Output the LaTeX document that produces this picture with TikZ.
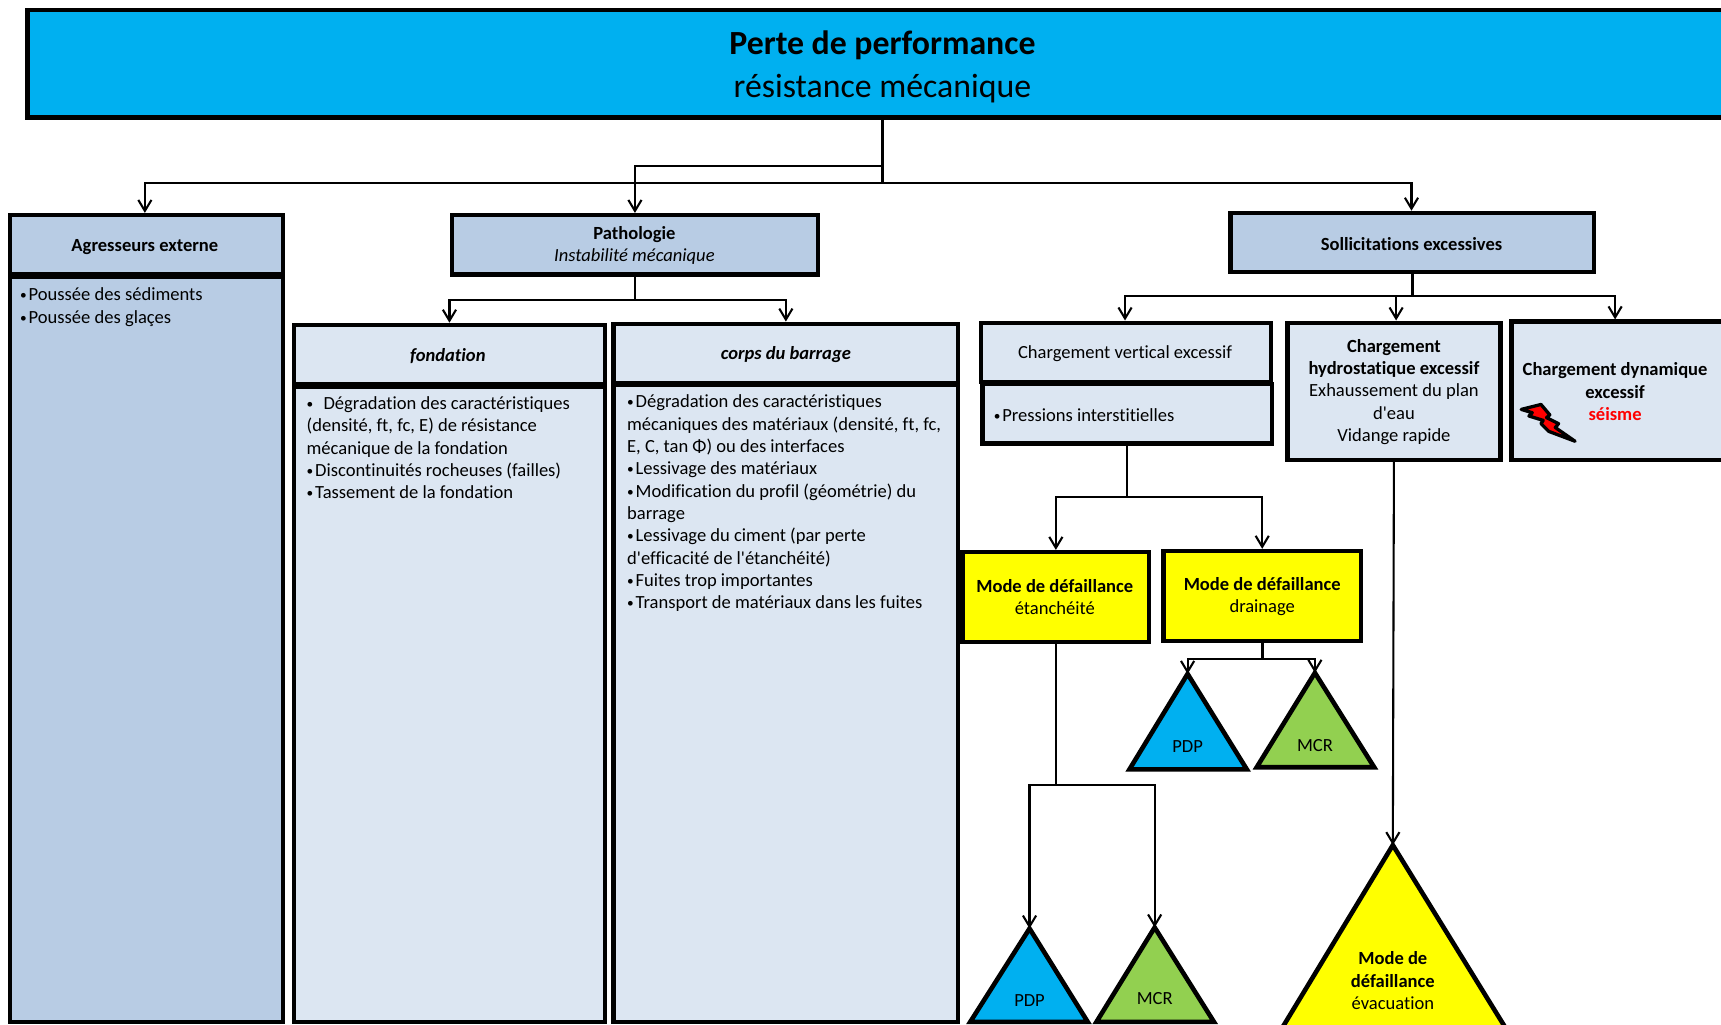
\documentclass[tikz,border=0pt]{standalone}
\usepackage{fontspec}
\setmainfont{Carlito}[Ligatures={ResetAll,NoCommon}]
\newfontfamily\plainap{Carlito}
\usetikzlibrary{arrows.meta}
\definecolor{rootblue}{HTML}{00B0F0}
\definecolor{midblue}{HTML}{B8CCE4}
\definecolor{paleblue}{HTML}{DCE6F2}
\definecolor{leaf}{HTML}{92D050}
\definecolor{mode}{HTML}{FFFF00}
\newcommand{\bodyfont}{\fontsize{8.45}{10.17}\selectfont}
\newcommand{\blt}{\raisebox{0.12ex}{\scalebox{0.72}{•}}\hspace{0.1em}}
\newcommand{\ap}{{\plainap'}}
\tikzset{
  x=0.5pt,y=-0.5pt,
  boxbase/.style={draw=black,line width=2pt,rectangle,inner sep=0pt,align=center,font=\bodyfont,text=black,anchor=center},
  sized/.style n args={4}{minimum width=#3*0.5pt-#1*0.5pt-1pt,minimum height=#4*0.5pt-#2*0.5pt-1pt,at={({(#1+#3)/2},{(#2+#4)/2})}},
  midbox/.style={boxbase,fill=midblue},
  palebox/.style={boxbase,fill=paleblue},
  modebox/.style={boxbase,fill=mode},
  bodytext/.style={inner sep=0pt,anchor=north west,align=left,font=\bodyfont,text=black},
  boxlabel/.style={inner sep=0pt,align=center,font=\bodyfont,text=black},
  link/.style={draw=black,line width=0.95pt},
  arrowlink/.style={link,-{Straight Barb[length=5pt,width=6pt,line width=0.95pt]}},
  tri/.style={draw=black,line width=2.1pt,line join=miter},
  trilabel/.style={boxlabel},
}
\begin{document}
\begin{tikzpicture}
\useasboundingbox (0,0) rectangle (1568,933);
\clip (0,0) rectangle (1568,933);
% root
\node[boxbase,fill=rootblue,sized={24}{8}{1584}{108}] (root) {};
\node[boxlabel,font=\fontsize{15.4}{19.6}\selectfont] (roottext) at (804,60.5) {\textbf{Perte de performance}\\résistance mécanique};
% second level
\node[midbox,sized={8}{195}{259}{251}] (agr) {};
\node[boxlabel] (agrlabel) at (132,225) {\textbf{Agresseurs externe}};
\node[midbox,sized={8}{251}{259}{932}] (agrbody) {};
\node[midbox,sized={411}{195}{746}{251}] (path) {};
\node[boxlabel] (pathlabel) at (578,223.5) {\textbf{Pathologie}\\\textit{Instabilité mécanique}};
\node[midbox,sized={1120}{193}{1453}{249}] (soll) {};
\node[boxlabel] (solllabel) at (1286,222) {\textbf{Sollicitations excessives}};
\node[bodytext] (agrtext) at (18,262) {\blt Poussée des sédiments\\\blt Poussée des glaçes};
% third level
\node[palebox,sized={267}{295}{552}{351}] (fond) {};
\node[boxlabel] (fondlabel) at (408,324) {\textbf{\textit{fondation}}};
\node[palebox,sized={267}{351}{552}{932}] (fondbody) {};
\node[bodytext] (fondtext) at (279,361) {\blt\ \ Dégradation des caractéristiques\\(densité, ft, fc, E) de résistance\\mécanique de la fondation\\\blt Discontinuités rocheuses (failles)\\\blt Tassement de la fondation};
\node[palebox,sized={558}{294}{874}{350}] (corps) {};
\node[boxlabel] (corpslabel) at (716,323) {\textbf{\textit{corps du barrage}}};
\node[palebox,sized={558}{350}{874}{932}] (corpsbody) {};
\node[bodytext] (corpstext) at (571,359.5) {\blt Dégradation des caractéristiques\\mécaniques des matériaux (densité, ft, fc,\\E, C, tan Φ) ou des interfaces\\\blt Lessivage des matériaux\\\blt Modification du profil (géométrie) du\\barrage\\\blt Lessivage du ciment (par perte\\d\ap efficacité de l\ap étanchéité)\\\blt Fuites trop importantes\\\blt Transport de matériaux dans les fuites};
\node[palebox,sized={893}{293}{1159}{349}] (vert) {};
\node[boxlabel] (vertlabel) at (1025,322) {Chargement vertical excessif};
\node[palebox,sized={894}{349}{1160}{405}] (vertbody) {};
\node[bodytext] (verttext) at (905,372) {\blt Pressions interstitielles};
\node[palebox,sized={1172}{293}{1368}{420}] (hydro) {};
\node[boxlabel] (hydrolabel) at (1270,357) {\textbf{Chargement}\\\textbf{hydrostatique excessif}\\Exhaussement du plan\\d\ap eau\\Vidange rapide};
\node[palebox,sized={1376}{292}{1575}{420}] (dyn) {};
\node[boxlabel] (dyntext) at (1471.5,357) {\textbf{Chargement dynamique}\\\textbf{excessif}\\\textcolor{red}{\textbf{séisme}}};
% lightning bolt
\draw[draw=black,line width=1.5pt,fill=red,line join=round]
  (1386,373) -- (1404,368.5) -- (1412,378) -- (1409,380.5) -- (1420,386) -- (1417,389.5) -- (1435,402) -- (1411,393) -- (1404,386) -- (1406,383) -- (1393,379) -- (1396,376) -- cycle;
% modes
\node[modebox,sized={876}{502}{1048}{586}] (m1) {};
\node[boxlabel] (m1label) at (961,544) {\textbf{Mode de défaillance}\\étanchéité};
\node[modebox,sized={1059}{501}{1241}{585}] (m2) {};
\node[boxlabel] (m2label) at (1150,543.5) {\textbf{Mode de défaillance}\\drainage};
% triangles
\coordinate (t1) at (1082,614);
\coordinate (t2) at (1198,613);
\coordinate (t3) at (938,846);
\coordinate (t4) at (1052,845);
\coordinate (t5) at (1269,770);
\draw[tri,fill=rootblue] (t1) -- (1029,701) -- (1136,701) -- cycle;
\draw[tri,fill=leaf] (t2) -- (1145,699) -- (1252,699) -- cycle;
\draw[tri,fill=rootblue] (t3) -- (884,931) -- (991,931) -- cycle;
\draw[tri,fill=leaf] (t4) -- (999,931) -- (1106,931) -- cycle;
\draw[tri,fill=mode] (t5) -- (1160,950) -- (1380,950) -- cycle;
\node[trilabel] (t1l) at (1082,680) {PDP};
\node[trilabel] (t2l) at (1198,679) {MCR};
\node[trilabel] (t3l) at (938,911.5) {PDP};
\node[trilabel] (t4l) at (1052,909.5) {MCR};
\node[trilabel] (t5l) at (1269,893.5) {\textbf{Mode de}\\\textbf{défaillance}\\évacuation};
% connectors
\coordinate (rootA) at (root.south |- 0,151);
\coordinate (rootB) at (root.south |- 0,167);
\draw[arrowlink] (root.south) -- (rootA) -| (path.north);
\draw[arrowlink] (rootA) -- (rootB) -| (agrlabel.center |- agr.north);
\draw[arrowlink] (rootB) -| (solllabel.center |- soll.north);
\coordinate (pathA) at (path.south |- 0,273);
\draw[link,line width=1.2pt] (path.south) -- (pathA);
\draw[arrowlink] (pathA) -| (fond.north);
\draw[arrowlink] (pathA) -| (corps.north);
\coordinate (sollA) at (1287,270);
\draw[link,line width=1.2pt] (sollA |- soll.south) -- (sollA);
\draw[arrowlink] (sollA) -| (vertlabel.center |- vert.north);
\draw[arrowlink] ([xshift=1pt]hydro.north |- sollA) -- ([xshift=1pt]hydro.north);
\draw[arrowlink] (sollA) -| (dyntext.center |- dyn.north);
\coordinate (vertA) at (vertbody.south |- 0,453);
\draw[link] (vertbody.south) -- (vertA);
\draw[arrowlink] (vertA) -| (m1.north);
\draw[arrowlink] (vertA) -| (m2label.center |- m2.north);
\coordinate (m1A) at (m1.south |- 0,715);
\draw[link] (m1.south) -- (m1A);
\draw[arrowlink] (m1A) -| (t3);
\draw[arrowlink] (m1A) -| (t4);
\coordinate (m2A) at (m2.south |- 0,600);
\draw[link,line width=1.2pt] (m2.south) -- (m2A);
\draw[arrowlink] (m2A) -| (t1);
\draw[arrowlink] (m2A) -| (t2);
\draw[arrowlink] (hydro.south) -- (t5);
\end{tikzpicture}
\end{document}
